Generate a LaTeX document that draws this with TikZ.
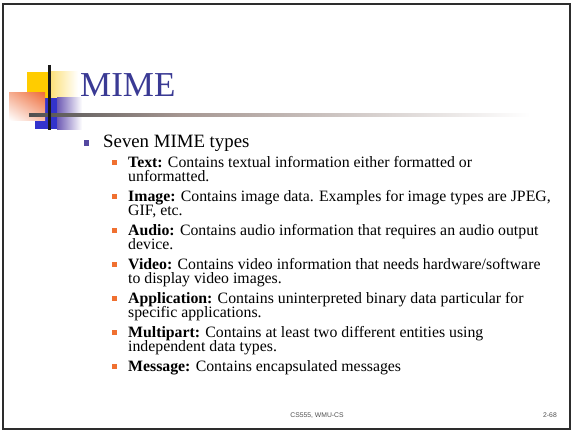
\documentclass[tikz,border=0pt]{standalone}
\usepackage{fontspec}
\usetikzlibrary{shadings}
\setmainfont{Liberation Serif}
\newfontfamily\footfont{Liberation Sans}
\definecolor{titleblue}{RGB}{58,58,148}
\definecolor{bulletone}{RGB}{84,72,160}
\definecolor{bullettwo}{RGB}{240,112,48}
\definecolor{logoyellow}{RGB}{255,204,0}
\definecolor{logoyellowlight}{RGB}{252,224,120}
\definecolor{logoblue}{RGB}{51,51,204}
\definecolor{logobluelight}{RGB}{110,90,180}
\definecolor{logoorange}{RGB}{238,110,60}
\definecolor{rulegray}{RGB}{80,80,80}
\definecolor{rulebrown}{RGB}{165,150,145}
\definecolor{framegray}{RGB}{45,45,45}
\definecolor{footgray}{RGB}{80,80,80}
\tikzset{
  frame/.style={draw=framegray, line width=2pt},
  bulletA/.style={fill=bulletone, minimum size=5.5pt, inner sep=0pt},
  bulletB/.style={fill=bullettwo, minimum size=4.5pt, inner sep=0pt},
  leveltwo/.style={anchor=base west, inner sep=0pt,
    font=\fontsize{15.8}{14}\selectfont},
  foottext/.style={anchor=base, inner sep=0pt, text=footgray,
    font=\footfont\fontsize{6.8}{7}\selectfont}
}
\begin{document}
\begin{tikzpicture}[x=1pt,y=-1pt]
\useasboundingbox (0,0) rectangle (572,433);
\fill[white] (0,0) rectangle (572,433);

% slide frame
\draw[frame] (3,4) rectangle (570,429);

% corner logo: coloured squares, fading bands and cross lines
\shade[left color=logoyellowlight, right color=white] (50,72) rectangle (78,98);
\fill[logoyellow] (27,72) rectangle (50,98);
\shade[left color=logobluelight, right color=white] (57,98) rectangle (82,129);
\fill[logoblue] (35,98) rectangle (57,129);
\shade[upper right=logoorange, upper left=logoorange!55!white,
       lower right=logoorange!45!white, lower left=white] (9,93) rectangle (45,120);
\shade[left color=rulegray, right color=rulebrown] (29,113.6) rectangle (180,116.4);
\shade[left color=rulebrown, right color=white] (180,113.6) rectangle (530,116.4);
\draw[line width=2.2pt, black!90] (49.5,65) -- (49.5,130);

% title
\node[anchor=base west, inner sep=0pt, text=titleblue,
      font=\fontsize{35}{35}\selectfont] (title) at (80,97) {MIME};

% first-level bullet
\node[bulletA] (b0) at (86.5,143) {};
\node[anchor=base west, inner sep=0pt, font=\fontsize{18.8}{19}\selectfont]
  (seven) at (103,147.5) {Seven MIME types};

% second-level bullets
\foreach \n/\y in {text/167,image/201,audio/235,video/269,appl/303,multi/337,msg/371}
  \node[bulletB] (b-\n) at (114.5,\y-4.5) {};

% second-level items, one node per printed line
\node[leveltwo] (t-text) at (128,167)
  {\textbf{Text:} Contains textual information either formatted or};
\node[leveltwo] (t-text-2) at (128,181) {unformatted.};
\node[leveltwo] (t-image) at (128,201)
  {\textbf{Image:} Contains image data. Examples for image types are JPEG,};
\node[leveltwo] (t-image-2) at (128,215) {GIF, etc.};
\node[leveltwo] (t-audio) at (128,235)
  {\textbf{Audio:} Contains audio information that requires an audio output};
\node[leveltwo] (t-audio-2) at (128,249) {device.};
\node[leveltwo] (t-video) at (128,269)
  {\textbf{Video:} Contains video information that needs hardware/software};
\node[leveltwo] (t-video-2) at (128,283) {to display video images.};
\node[leveltwo] (t-appl) at (128,303)
  {\textbf{Application:} Contains uninterpreted binary data particular for};
\node[leveltwo] (t-appl-2) at (128,317) {specific applications.};
\node[leveltwo] (t-multi) at (128,337)
  {\textbf{Multipart:} Contains at least two different entities using};
\node[leveltwo] (t-multi-2) at (128,351) {independent data types.};
\node[leveltwo] (t-msg) at (128,371)
  {\textbf{Message:} Contains encapsulated messages};

% footer
\node[foottext] (course) at (317,417) {CS555, WMU-CS};
\node[foottext, anchor=base east] (page) at (557,417) {2-68};
\end{tikzpicture}
\end{document}
